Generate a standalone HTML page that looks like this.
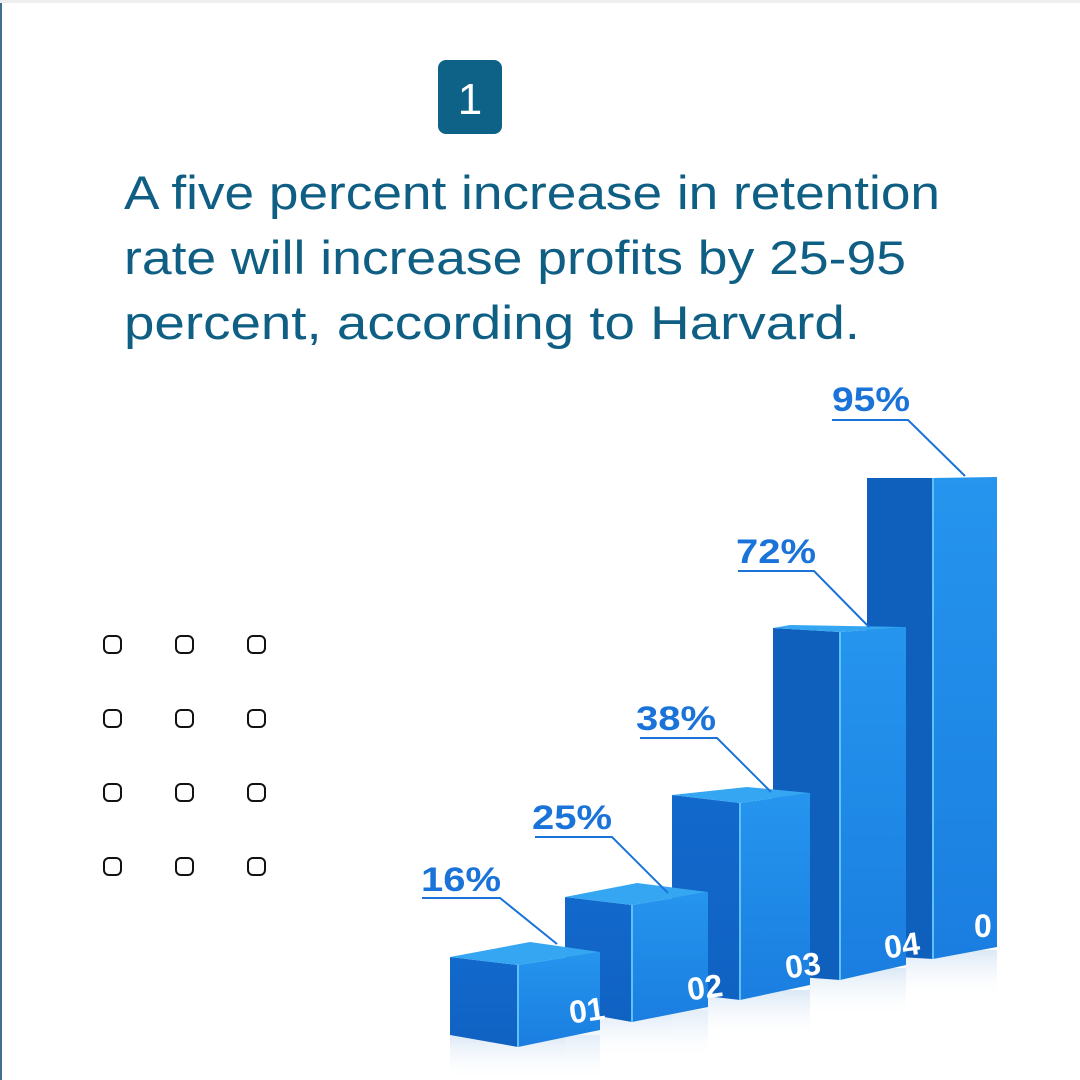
<!DOCTYPE html>
<html><head><meta charset="utf-8"><style>
html,body{margin:0;padding:0;background:#fff;}
svg{display:block;}
</style></head><body>
<svg width="1080" height="1080" viewBox="0 0 1080 1080" xmlns="http://www.w3.org/2000/svg">
<defs>
<linearGradient id="lf" x1="0" y1="0" x2="0" y2="1"><stop offset="0" stop-color="#1269cc"/><stop offset="1" stop-color="#1062c2"/></linearGradient>
<linearGradient id="rf" x1="0" y1="0" x2="0" y2="1"><stop offset="0" stop-color="#2595ee"/><stop offset="1" stop-color="#1a7ee0"/></linearGradient>
<linearGradient id="refl" x1="0" y1="0" x2="0" y2="1"><stop offset="0" stop-color="#dbe8f6"/><stop offset="1" stop-color="#ffffff" stop-opacity="0"/></linearGradient>
</defs>
<rect width="1080" height="1080" fill="#fff"/>
<rect x="0" y="0" width="1080" height="3" fill="#eceef0"/>
<rect x="0" y="3" width="2" height="1077" fill="#3f6f8c"/>
<rect x="438" y="60" width="64" height="74" rx="8" fill="#0e6187"/>
<text x="470" y="114" text-anchor="middle" font-family="Liberation Sans, sans-serif" font-size="44" fill="#fff">1</text>
<g font-family="Liberation Sans, sans-serif" font-size="47" fill="#0f5f85">
<text x="124" y="209" textLength="816" lengthAdjust="spacingAndGlyphs">A five percent increase in retention</text>
<text x="124" y="274" textLength="782" lengthAdjust="spacingAndGlyphs">rate will increase profits by 25-95</text>
<text x="124" y="339" textLength="736" lengthAdjust="spacingAndGlyphs">percent, according to Harvard.</text>
</g>
<g fill="none" stroke="#111" stroke-width="2">
<rect x="104" y="636" width="17" height="17" rx="5"/><rect x="176" y="636" width="17" height="17" rx="5"/><rect x="248" y="636" width="17" height="17" rx="5"/>
<rect x="104" y="710" width="17" height="17" rx="5"/><rect x="176" y="710" width="17" height="17" rx="5"/><rect x="248" y="710" width="17" height="17" rx="5"/>
<rect x="104" y="784" width="17" height="17" rx="5"/><rect x="176" y="784" width="17" height="17" rx="5"/><rect x="248" y="784" width="17" height="17" rx="5"/>
<rect x="104" y="858" width="17" height="17" rx="5"/><rect x="176" y="858" width="17" height="17" rx="5"/><rect x="248" y="858" width="17" height="17" rx="5"/>
</g>
<rect x="450" y="1035" width="150" height="45" fill="url(#refl)"/>
<rect x="565" y="1010" width="143" height="50" fill="url(#refl)"/>
<rect x="672" y="990" width="138" height="50" fill="url(#refl)"/>
<rect x="810" y="968" width="96" height="50" fill="url(#refl)"/>
<rect x="906" y="950" width="91" height="50" fill="url(#refl)"/>
<polygon points="867,478 933,478 933,959 867,955" fill="#0f5fbd"/>
<polygon points="933,478 997,477 997,947 933,959" fill="url(#rf)"/>
<line x1="933" y1="478" x2="933" y2="959" stroke="#5cc2fb" stroke-width="2"/>
<polygon points="773,628 840,632 840,980 773,975" fill="#0f5fbd"/>
<polygon points="840,632 906,627 906,965 840,980" fill="url(#rf)"/>
<polygon points="773,628 790,625 906,627 840,632" fill="#35a6f2"/>
<line x1="840" y1="632" x2="840" y2="980" stroke="#5cc2fb" stroke-width="2"/>
<polygon points="672,795 740,803 740,1000 672,992" fill="url(#lf)"/>
<polygon points="740,803 810,793 810,985 740,1000" fill="url(#rf)"/>
<polygon points="672,795 747,787 810,793 740,803" fill="#35a6f2"/>
<line x1="740" y1="803" x2="740" y2="1000" stroke="#5cc2fb" stroke-width="2"/>
<polygon points="565,897 632,905 632,1022 565,1010" fill="url(#lf)"/>
<polygon points="632,905 708,892 708,1007 632,1022" fill="url(#rf)"/>
<polygon points="565,897 637,883 708,892 632,905" fill="#35a6f2"/>
<line x1="632" y1="905" x2="632" y2="1022" stroke="#5cc2fb" stroke-width="2"/>
<polygon points="450,957 518,965 518,1047 450,1035" fill="url(#lf)"/>
<polygon points="518,965 600,952 600,1030 518,1047" fill="url(#rf)"/>
<polygon points="450,957 530,942 600,952 518,965" fill="#35a6f2"/>
<line x1="518" y1="965" x2="518" y2="1047" stroke="#5cc2fb" stroke-width="2"/>
<g font-family="Liberation Sans, sans-serif" font-weight="bold" font-size="32" fill="#fff">
<text x="569" y="1021" transform="rotate(-8 589 1010)">01</text>
<text x="687" y="998" transform="rotate(-8 707 987)">02</text>
<text x="785" y="976" transform="rotate(-8 805 965)">03</text>
<text x="884" y="956" transform="rotate(-8 904 945)">04</text>
<text x="974" y="937">0</text>
</g>
<g font-family="Liberation Sans, sans-serif" font-weight="bold" font-size="34" fill="#1a73d9">
<text x="421" y="891" textLength="80" lengthAdjust="spacingAndGlyphs">16%</text>
<text x="532" y="829" textLength="80" lengthAdjust="spacingAndGlyphs">25%</text>
<text x="636" y="730" textLength="80" lengthAdjust="spacingAndGlyphs">38%</text>
<text x="736" y="563" textLength="80" lengthAdjust="spacingAndGlyphs">72%</text>
<text x="832" y="411" textLength="78" lengthAdjust="spacingAndGlyphs">95%</text>
</g>
<g fill="none" stroke="#1a73d9" stroke-width="2">
<polyline points="422,898 500,898 557,944"/>
<polyline points="535,837 612,837 668,893"/>
<polyline points="640,738 717,738 771,792"/>
<polyline points="738,571 814,571 869,627"/>
<polyline points="832,420 908,420 965,476"/>
</g>
</svg>
</body></html>
